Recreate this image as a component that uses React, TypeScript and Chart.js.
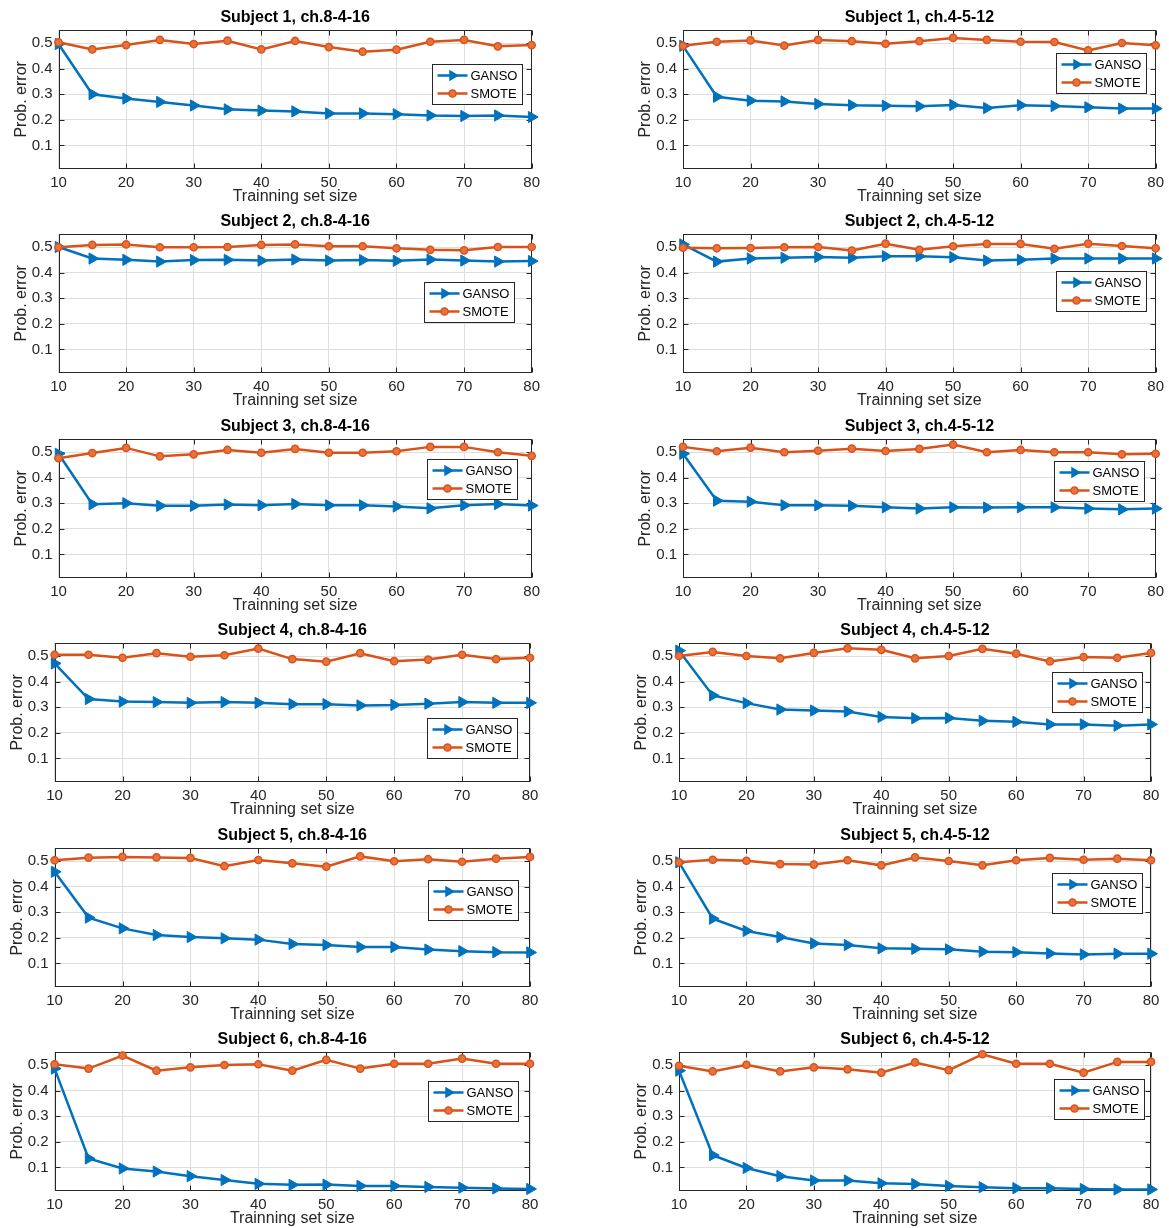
import React, { useEffect, useRef } from "react";
import { Chart, registerables } from "chart.js";

Chart.register(...registerables);

// ---------- data ----------
const trainingSizes = [10, 15, 20, 25, 30, 35, 40, 45, 50, 55, 60, 65, 70, 75, 80];
const xTickValues = [10, 20, 30, 40, 50, 60, 70, 80];
const yTickValues = [0.1, 0.2, 0.3, 0.4, 0.5];
const seriesNames = ["GANSO", "SMOTE"];

const panelTitles = [
  "Subject 1, ch.8-4-16", "Subject 1, ch.4-5-12",
  "Subject 2, ch.8-4-16", "Subject 2, ch.4-5-12",
  "Subject 3, ch.8-4-16", "Subject 3, ch.4-5-12",
  "Subject 4, ch.8-4-16", "Subject 4, ch.4-5-12",
  "Subject 5, ch.8-4-16", "Subject 5, ch.4-5-12",
  "Subject 6, ch.8-4-16", "Subject 6, ch.4-5-12",
];

const s1_ch8_ganso = [0.496, 0.30, 0.283, 0.27, 0.256, 0.241, 0.236, 0.233, 0.225, 0.225, 0.222, 0.217, 0.215, 0.217, 0.211];
const s1_ch8_smote = [0.503, 0.475, 0.492, 0.512, 0.496, 0.509, 0.475, 0.508, 0.484, 0.466, 0.474, 0.505, 0.512, 0.487, 0.492];
const s1_ch4_ganso = [0.489, 0.29, 0.275, 0.272, 0.262, 0.257, 0.255, 0.253, 0.258, 0.246, 0.257, 0.254, 0.249, 0.244, 0.244];
const s1_ch4_smote = [0.489, 0.505, 0.51, 0.49, 0.512, 0.507, 0.497, 0.507, 0.52, 0.512, 0.505, 0.504, 0.471, 0.5, 0.491];
const s2_ch8_ganso = [0.5, 0.455, 0.45, 0.443, 0.449, 0.45, 0.447, 0.451, 0.447, 0.449, 0.446, 0.451, 0.447, 0.443, 0.445];
const s2_ch8_smote = [0.499, 0.508, 0.51, 0.499, 0.499, 0.5, 0.508, 0.51, 0.503, 0.503, 0.495, 0.489, 0.487, 0.5, 0.5];
const s2_ch4_ganso = [0.51, 0.443, 0.455, 0.458, 0.461, 0.458, 0.464, 0.464, 0.46, 0.447, 0.45, 0.455, 0.455, 0.455, 0.455];
const s2_ch4_smote = [0.497, 0.495, 0.496, 0.499, 0.5, 0.486, 0.513, 0.489, 0.503, 0.512, 0.512, 0.493, 0.513, 0.504, 0.495];
const s3_ch8_ganso = [0.493, 0.296, 0.3, 0.29, 0.29, 0.295, 0.292, 0.297, 0.292, 0.292, 0.287, 0.28, 0.292, 0.297, 0.291];
const s3_ch8_smote = [0.476, 0.496, 0.516, 0.483, 0.491, 0.508, 0.497, 0.512, 0.497, 0.497, 0.503, 0.52, 0.52, 0.499, 0.485];
const s3_ch4_ganso = [0.493, 0.31, 0.306, 0.292, 0.292, 0.29, 0.284, 0.279, 0.284, 0.283, 0.284, 0.284, 0.279, 0.276, 0.279];
const s3_ch4_smote = [0.52, 0.503, 0.517, 0.499, 0.505, 0.513, 0.504, 0.512, 0.529, 0.499, 0.508, 0.499, 0.499, 0.491, 0.493];
const s4_ch8_ganso = [0.471, 0.332, 0.322, 0.32, 0.317, 0.32, 0.317, 0.312, 0.312, 0.307, 0.309, 0.314, 0.32, 0.317, 0.317];
const s4_ch8_smote = [0.505, 0.505, 0.493, 0.511, 0.497, 0.503, 0.529, 0.488, 0.478, 0.511, 0.48, 0.486, 0.505, 0.488, 0.493];
const s4_ch4_ganso = [0.521, 0.346, 0.316, 0.291, 0.287, 0.283, 0.262, 0.257, 0.258, 0.247, 0.243, 0.233, 0.233, 0.228, 0.233];
const s4_ch4_smote = [0.5, 0.516, 0.5, 0.491, 0.512, 0.53, 0.524, 0.491, 0.5, 0.528, 0.509, 0.479, 0.496, 0.493, 0.512];
const s5_ch8_ganso = [0.458, 0.279, 0.237, 0.211, 0.203, 0.198, 0.193, 0.176, 0.172, 0.164, 0.164, 0.154, 0.148, 0.144, 0.143];
const s5_ch8_smote = [0.503, 0.513, 0.516, 0.514, 0.512, 0.48, 0.504, 0.491, 0.478, 0.518, 0.499, 0.507, 0.497, 0.509, 0.516];
const s5_ch4_ganso = [0.495, 0.275, 0.227, 0.203, 0.178, 0.172, 0.159, 0.157, 0.155, 0.146, 0.144, 0.139, 0.135, 0.138, 0.138];
const s5_ch4_smote = [0.495, 0.505, 0.501, 0.488, 0.486, 0.503, 0.483, 0.514, 0.5, 0.483, 0.503, 0.512, 0.505, 0.509, 0.503];
const s6_ch8_ganso = [0.486, 0.135, 0.096, 0.084, 0.066, 0.051, 0.036, 0.032, 0.033, 0.028, 0.028, 0.024, 0.021, 0.018, 0.016];
const s6_ch8_smote = [0.503, 0.486, 0.537, 0.478, 0.491, 0.5, 0.503, 0.478, 0.52, 0.486, 0.505, 0.505, 0.525, 0.505, 0.505];
const s6_ch4_ganso = [0.478, 0.148, 0.098, 0.066, 0.049, 0.049, 0.038, 0.035, 0.028, 0.023, 0.019, 0.019, 0.016, 0.014, 0.014];
const s6_ch4_smote = [0.497, 0.475, 0.501, 0.475, 0.491, 0.483, 0.47, 0.51, 0.48, 0.542, 0.505, 0.505, 0.47, 0.512, 0.512];

const gansoSeries = [s1_ch8_ganso, s1_ch4_ganso, s2_ch8_ganso, s2_ch4_ganso, s3_ch8_ganso, s3_ch4_ganso, s4_ch8_ganso, s4_ch4_ganso, s5_ch8_ganso, s5_ch4_ganso, s6_ch8_ganso, s6_ch4_ganso];
const smoteSeries = [s1_ch8_smote, s1_ch4_smote, s2_ch8_smote, s2_ch4_smote, s3_ch8_smote, s3_ch4_smote, s4_ch8_smote, s4_ch4_smote, s5_ch8_smote, s5_ch4_smote, s6_ch8_smote, s6_ch4_smote];

// ---------- layout / style ----------
const FONT = "'Liberation Sans', Arial, Helvetica, sans-serif";
const BLUE = "#0072BD";
const ORANGE = "#D95319";
const AXIS = "#262626";
const GRID = "#dedede";
const ROW_STEP = 204.4;
const CANVAS_H = 206;
const Y_AXIS_W = 47;

// per panel: canvas left, canvas width, padding left/right, legend offsets (top from plot top, gap from plot right)
const panelLayout = [
  { left: 0, width: 545, padL: 11.5, padR: 11.6, legTop: 34, legRight: 10 },
  { left: 620, width: 549, padL: 16, padR: 13, legTop: 23, legRight: 10 },
  { left: 0, width: 545, padL: 11.5, padR: 11.6, legTop: 48, legRight: 18 },
  { left: 620, width: 549, padL: 16, padR: 13, legTop: 37, legRight: 10 },
  { left: 0, width: 545, padL: 11.5, padR: 11.6, legTop: 20, legRight: 15 },
  { left: 620, width: 549, padL: 16, padR: 13, legTop: 22, legRight: 12 },
  { left: 0, width: 545, padL: 7.6, padR: 15, legTop: 75, legRight: 13 },
  { left: 620, width: 549, padL: 12, padR: 18, legTop: 29, legRight: 9 },
  { left: 0, width: 545, padL: 7.6, padR: 15, legTop: 32, legRight: 12 },
  { left: 620, width: 549, padL: 12, padR: 18, legTop: 25, legRight: 9 },
  { left: 0, width: 545, padL: 7.6, padR: 15, legTop: 29, legRight: 12 },
  { left: 620, width: 549, padL: 12, padR: 18, legTop: 27, legRight: 7 },
];

function drawTriangleRight(ctx: CanvasRenderingContext2D, x: number, y: number, r: number) {
  ctx.beginPath();
  for (let k = 0; k < 3; k++) {
    const a = Math.PI / 2 + (k * 2 * Math.PI) / 3;
    const px = x + Math.sin(a) * r;
    const py = y - Math.cos(a) * r;
    if (k === 0) ctx.moveTo(px, py);
    else ctx.lineTo(px, py);
  }
  ctx.closePath();
  ctx.fill();
}

function Panel({ index }: { index: number }) {
  const ref = useRef<HTMLCanvasElement | null>(null);
  const lay = panelLayout[index];
  const row = Math.floor(index / 2);
  const top = Math.round(ROW_STEP * row);

  useEffect(() => {
    if (!ref.current) return;
    const boxPlugin = {
      id: "matlabBox",
      beforeDatasetsDraw(chart: any) {
        const { ctx, chartArea: a, scales } = chart;
        ctx.save();
        ctx.strokeStyle = AXIS;
        ctx.lineWidth = 1;
        const l = Math.round(a.left) + 0.5, r = Math.round(a.right) - 0.5;
        const t = Math.round(a.top) + 0.5, b = Math.round(a.bottom) - 0.5;
        ctx.strokeRect(l, t, r - l, b - t);
        ctx.beginPath();
        const tl = 5;
        for (const v of xTickValues) {
          const px = Math.round(scales.x.getPixelForValue(v)) + 0.5;
          ctx.moveTo(px, b); ctx.lineTo(px, b - tl);
          ctx.moveTo(px, t); ctx.lineTo(px, t + tl);
        }
        for (const v of yTickValues) {
          const py = Math.round(scales.y.getPixelForValue(v)) + 0.5;
          ctx.moveTo(l, py); ctx.lineTo(l + tl, py);
          ctx.moveTo(r, py); ctx.lineTo(r - tl, py);
        }
        ctx.stroke();
        ctx.restore();
      },
    };
    const legendPlugin = {
      id: "insideLegend",
      afterDatasetsDraw(chart: any) {
        const { ctx, chartArea: a } = chart;
        const w = 90, h = 40;
        const x0 = Math.round(a.right - lay.legRight - w) + 0.5;
        const y0 = Math.round(a.top + lay.legTop) + 0.5;
        ctx.save();
        ctx.fillStyle = "#ffffff";
        ctx.fillRect(x0, y0, w, h);
        ctx.strokeStyle = AXIS;
        ctx.lineWidth = 1;
        ctx.strokeRect(x0, y0, w, h);
        const rows = [y0 + 11, y0 + 29];
        seriesNames.forEach((name, k) => {
          const yy = rows[k];
          const col = k === 0 ? BLUE : ORANGE;
          ctx.strokeStyle = col;
          ctx.lineWidth = 2.5;
          ctx.beginPath();
          ctx.moveTo(x0 + 5, yy);
          ctx.lineTo(x0 + 35, yy);
          ctx.stroke();
          ctx.fillStyle = col;
          if (k === 0) {
            drawTriangleRight(ctx, x0 + 20, yy, 6.5);
          } else {
            ctx.beginPath();
            ctx.arc(x0 + 20, yy, 3.6, 0, Math.PI * 2);
            ctx.fillStyle = "#E8723E";
            ctx.fill();
            ctx.lineWidth = 1.5;
            ctx.stroke();
          }
          ctx.fillStyle = "#000000";
          ctx.font = `13px ${FONT}`;
          ctx.textBaseline = "middle";
          ctx.textAlign = "left";
          ctx.fillText(name, x0 + 38, yy + 0.5);
        });
        ctx.restore();
      },
    };

    const chart = new Chart(ref.current, {
      type: "line",
      data: {
        datasets: [
          {
            label: seriesNames[0],
            data: trainingSizes.map((x, i) => ({ x, y: gansoSeries[index][i] })),
            borderColor: BLUE,
            backgroundColor: BLUE,
            borderWidth: 2.5,
            pointStyle: "triangle",
            pointRotation: 90,
            pointRadius: 6.5,
            pointBorderWidth: 1,
            pointBackgroundColor: BLUE,
            pointBorderColor: BLUE,
            tension: 0,
            clip: false as any,
            order: 1,
          },
          {
            label: seriesNames[1],
            data: trainingSizes.map((x, i) => ({ x, y: smoteSeries[index][i] })),
            borderColor: ORANGE,
            backgroundColor: ORANGE,
            borderWidth: 2.5,
            pointStyle: "circle",
            pointRadius: 3.6,
            pointBorderWidth: 1.5,
            pointBackgroundColor: "#E8723E",
            pointBorderColor: ORANGE,
            tension: 0,
            clip: false as any,
            order: 0,
          },
        ],
      },
      options: {
        responsive: false,
        animation: false,
        layout: { padding: { left: lay.padL, right: lay.padR, top: 0, bottom: 0 } },
        plugins: {
          legend: { display: false },
          tooltip: { enabled: false },
          title: {
            display: true,
            text: panelTitles[index],
            fullSize: false,
            color: "#000000",
            font: { family: FONT, size: 16, weight: "bold" },
            padding: { top: 8, bottom: 3 },
          },
        },
        scales: {
          x: {
            type: "linear",
            min: 10,
            max: 80,
            afterBuildTicks: (s: any) => {
              s.ticks = xTickValues.map((v) => ({ value: v }));
            },
            afterFit: (s: any) => {
              s.height = CANVAS_H - 168.5;
            },
            ticks: {
              padding: 5,
              color: AXIS,
              font: { family: FONT, size: 15 },
              maxRotation: 0,
              autoSkip: false,
              callback: (v: any) => String(v),
            },
            grid: { color: GRID, drawTicks: false, lineWidth: 1 },
            border: { display: false },
            title: {
              display: true,
              text: "Trainning set size",
              color: AXIS,
              font: { family: FONT, size: 16 },
              padding: 0,
            },
          },
          y: {
            type: "linear",
            min: 0.01,
            max: 0.55,
            afterBuildTicks: (s: any) => {
              s.ticks = yTickValues.map((v) => ({ value: v }));
            },
            afterFit: (s: any) => {
              s.width = Y_AXIS_W;
            },
            ticks: {
              padding: 6,
              color: AXIS,
              font: { family: FONT, size: 15 },
              callback: (v: any) => Number(v).toFixed(1),
            },
            grid: { color: GRID, drawTicks: false, lineWidth: 1 },
            border: { display: false },
            title: {
              display: true,
              text: "Prob. error",
              color: AXIS,
              font: { family: FONT, size: 16 },
              padding: 0,
            },
          },
        },
      } as any,
      plugins: [boxPlugin, legendPlugin],
    });
    return () => chart.destroy();
  }, [index]);

  return (
    <canvas
      ref={ref}
      width={lay.width}
      height={CANVAS_H}
      style={{
        position: "absolute",
        left: lay.left,
        top,
        width: lay.width,
        height: CANVAS_H,
      }}
    />
  );
}

export default function App() {
  return (
    <div
      style={{
        position: "absolute",
        left: 0,
        top: 0,
        width: 1169,
        height: 1228,
        background: "#ffffff",
        overflow: "hidden",
      }}
    >
      {panelTitles.map((_, i) => (
        <Panel key={i} index={i} />
      ))}
    </div>
  );
}
